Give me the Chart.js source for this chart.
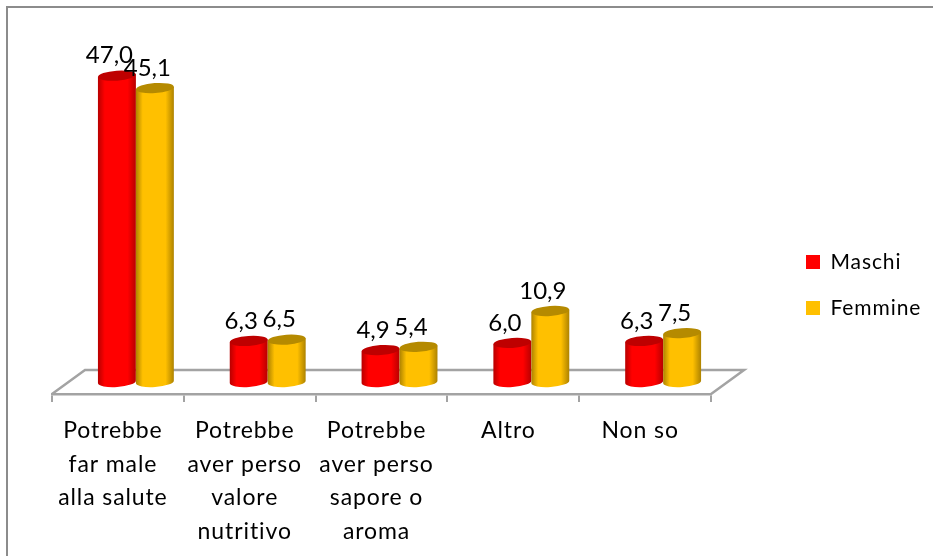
<!DOCTYPE html>
<html><head><meta charset="utf-8">
<style>html,body{margin:0;padding:0;background:#fff}#w{width:933px;height:556px}</style>
<script src="https://cdn.jsdelivr.net/npm/chart.js@4"></script></head>
<body><div id="w"><canvas id="c" width="933" height="556"></canvas></div>
<script>
const categories=[["Potrebbe","far male","alla salute"],["Potrebbe","aver perso","valore","nutritivo"],["Potrebbe","aver perso","sapore o","aroma"],"Altro","Non so"];
const maschi=[47.0,6.3,4.9,6.0,6.3];
const femmine=[45.1,6.5,5.4,10.9,7.5];
const FONT='Lato';
const grey='#A3A3A3';
const depthX=33, depthY=24, barShiftX=18, barShiftY=12;
const shades=[{edge:'#B80000',mid:'#FF0000',top:'#BE0000'},{edge:'#AD8200',mid:'#FFC000',top:'#B58A00'}];

const scene={
  id:'scene',
  beforeDraw(chart){
    const {ctx,chartArea:a,width,height}=chart;
    ctx.letterSpacing='0.9px';
    ctx.save();
    ctx.strokeStyle='#8C8C8C';ctx.lineWidth=2;
    ctx.beginPath();ctx.moveTo(7,height);ctx.lineTo(7,7);ctx.lineTo(width,7);ctx.stroke();
    ctx.strokeStyle=grey;ctx.lineWidth=2.5;
    ctx.beginPath();
    ctx.moveTo(a.left,a.bottom);ctx.lineTo(a.left+depthX,a.bottom-depthY);
    ctx.lineTo(a.right+depthX,a.bottom-depthY);ctx.lineTo(a.right,a.bottom);
    ctx.stroke();
    ctx.restore();
  },
  afterLayout(chart){
    const l=chart.legend;
    l.left=781;l.right=925;l.top=195;l.bottom=375;
  },
  beforeDatasetDraw(){return false;},
  afterDatasetsDraw(chart){
    const ctx=chart.ctx;
    ctx.save();
    ctx.letterSpacing='0px';
    ctx.translate(barShiftX,-barShiftY);
    const tilt=-0.07;
    chart.data.datasets.forEach((ds,di)=>{
      const s=shades[di];
      chart.getDatasetMeta(di).data.forEach(bar=>{
        const {x,y,base,width}=bar.getProps(['x','y','base','width'],true);
        const rx=width/2, ry=5;
        const dy=Math.sin(tilt)*rx;
        const g=ctx.createLinearGradient(x-rx,0,x+rx,0);
        g.addColorStop(0,s.edge);g.addColorStop(0.18,s.mid);
        g.addColorStop(0.78,s.mid);g.addColorStop(1,s.edge);
        ctx.fillStyle=g;
        ctx.beginPath();
        ctx.moveTo(x-rx,y-dy);
        ctx.lineTo(x-rx,base-dy);
        ctx.ellipse(x,base,rx,ry,tilt,Math.PI,0,true);
        ctx.lineTo(x+rx,y+dy);
        ctx.closePath();ctx.fill();
        ctx.fillStyle=s.top;
        ctx.beginPath();ctx.ellipse(x,y,rx,ry,tilt,0,Math.PI*2);ctx.fill();
      });
    });
    ctx.font='24px '+FONT;ctx.fillStyle='#000';ctx.textAlign='center';ctx.textBaseline='middle';
    chart.data.datasets.forEach((ds,di)=>{
      chart.getDatasetMeta(di).data.forEach((bar,i)=>{
        ctx.fillText(ds.data[i].toFixed(1).replace('.',','),bar.x-7.5,bar.y-20);
      });
    });
    ctx.restore();
  }
};

new Chart(document.getElementById('c'),{
  type:'bar',
  data:{labels:categories,datasets:[
    {label:'Maschi',data:maschi,backgroundColor:'#FF0000',borderWidth:0},
    {label:'Femmine',data:femmine,backgroundColor:'#FFC000',borderWidth:0}
  ]},
  options:{
    responsive:false,animation:false,
    layout:{padding:{top:16,left:52,right:78,bottom:0}},
    datasets:{bar:{barPercentage:1,categoryPercentage:0.576}},
    plugins:{
      tooltip:{enabled:false},
      legend:{position:'right',align:'center',
        labels:{boxWidth:14,boxHeight:14,padding:25,color:'#000',font:{family:FONT,size:21}},
        onClick:null}
    },
    scales:{
      x:{
        afterFit(s){s.height=556-394;},
        grid:{drawOnChartArea:false,drawTicks:true,tickLength:8,color:grey,lineWidth:2},
        border:{color:grey,width:2.5},
        ticks:{color:'#000',font:{family:FONT,size:23,lineHeight:1.46},padding:12,labelOffset:-5,maxRotation:0,autoSkip:false}
      },
      y:{display:false,min:0,max:58}
    }
  },
  plugins:[scene]
});
</script></body></html>
